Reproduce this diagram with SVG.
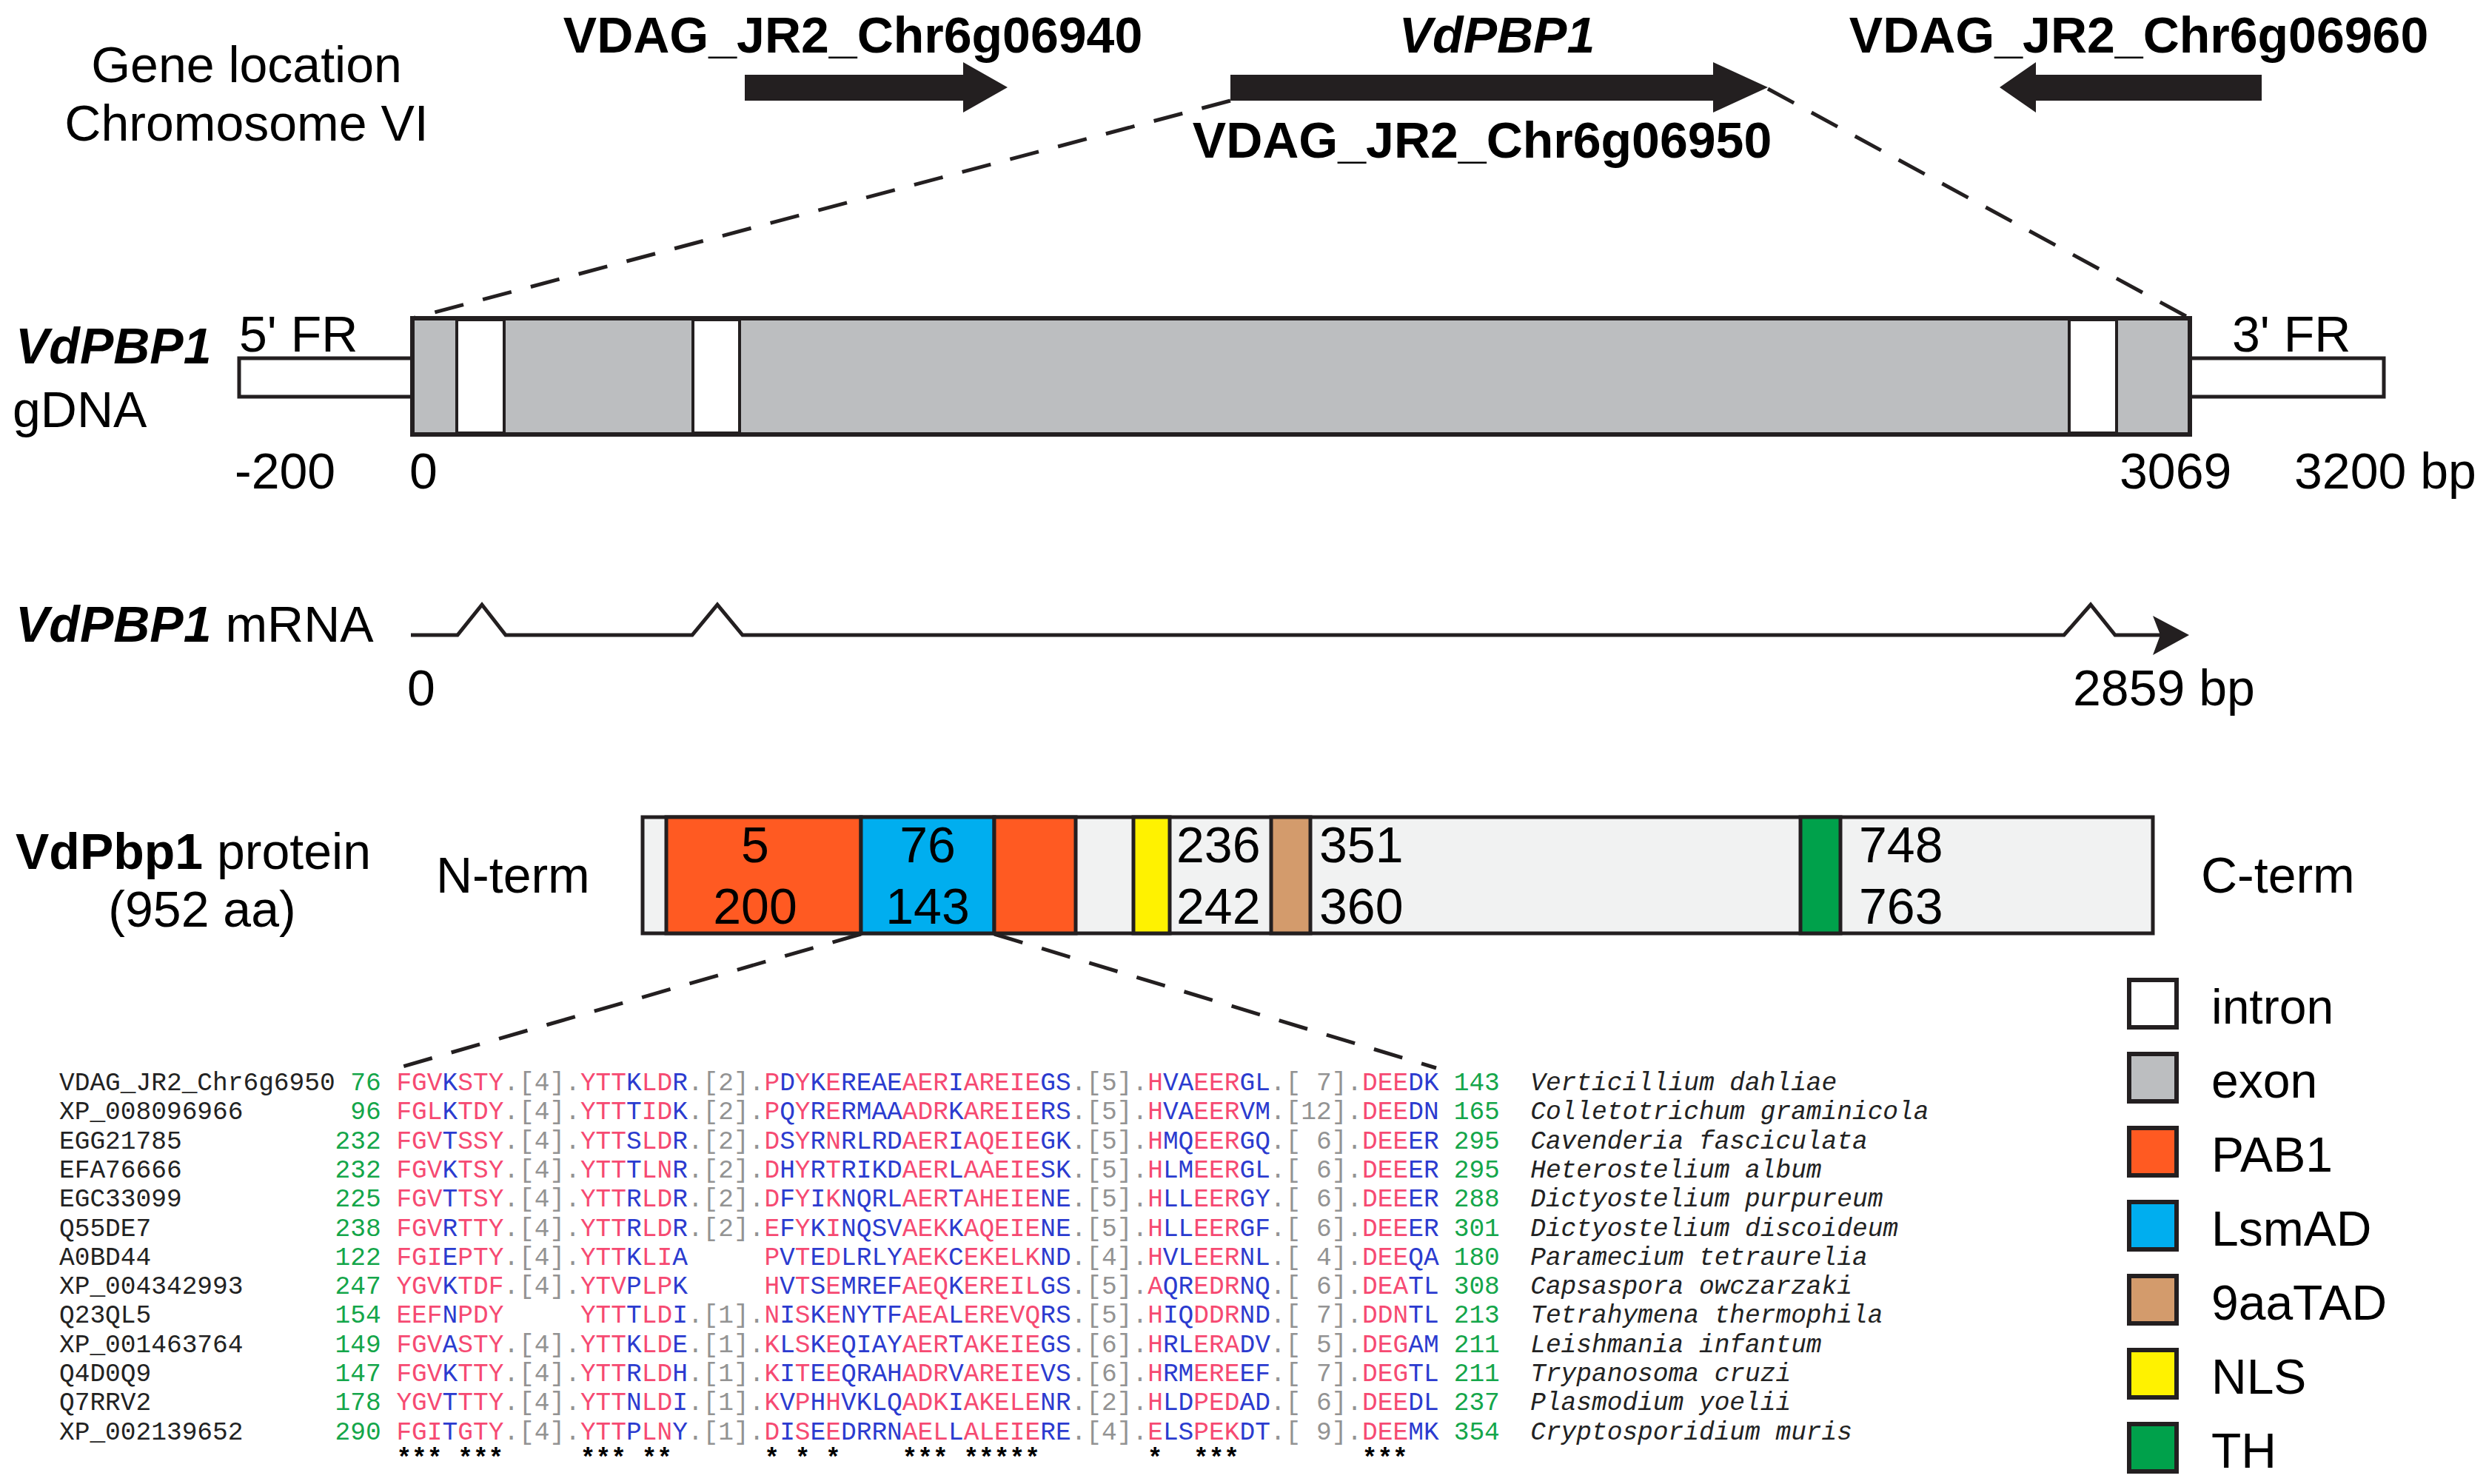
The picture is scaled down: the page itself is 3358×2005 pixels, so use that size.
<svg xmlns="http://www.w3.org/2000/svg" width="3358" height="2005" viewBox="0 0 3358 2005">
<defs>
<style>
text { font-family: "Liberation Sans", Arial, sans-serif; fill: #000; }
.t68 { font-size: 68px; }
.t66 { font-size: 66px; }
.b { font-weight: bold; }
.i { font-style: italic; }
.mid { text-anchor: middle; }
.end { text-anchor: end; }
.mono { font-family: "Liberation Mono", "Courier New", monospace; font-size: 34.5px; white-space: pre; }
.seq { fill: #2b3bcf; }
.p { fill: #f64a72; }
.g { fill: #939393; }
.n { fill: #14a64a; }
.nm { fill: #222; }
.sp { font-style: italic; fill: #222; }
.dash { fill: none; stroke: #231f20; stroke-width: 5; stroke-dasharray: 40 27; }
.blk { fill: #231f20; }
.ln { fill: none; stroke: #231f20; stroke-width: 5; stroke-linejoin: miter; }
.ex { fill: #bcbec0; stroke: #231f20; stroke-width: 6; }
.intr { fill: #fff; stroke: #231f20; stroke-width: 4; }
.fr { fill: #fff; stroke: #231f20; stroke-width: 5; }
.dom { stroke: #231f20; stroke-width: 5; }
.leg { stroke: #231f20; stroke-width: 6; }
</style>
</defs>
<rect x="0" y="0" width="3358" height="2005" fill="#fff"/>

<g id="gene-location">
<text class="t68 mid" x="333" y="111">Gene location</text>
<text class="t68 mid" x="333" y="190">Chromosome VI</text>
<text class="t68 b mid" x="1152" y="71">VDAG_JR2_Chr6g06940</text>
<text class="t68 b i mid" x="2022" y="71">VdPBP1</text>
<text class="t68 b mid" x="2002" y="213">VDAG_JR2_Chr6g06950</text>
<text class="t68 b mid" x="2889" y="71">VDAG_JR2_Chr6g06960</text>
<polygon id="arrow-06940" class="blk" points="1006,101 1301,101 1301,84 1361,118 1301,152 1301,136 1006,136"/>
<polygon id="arrow-06950" class="blk" points="1662,101 2314,101 2314,84 2388,118 2314,152 2314,136 1662,136"/>
<polygon id="arrow-06960" class="blk" points="3055,101 2750,101 2750,84 2701,118 2750,152 2750,136 3055,136"/>
</g>

<g id="gdna">
<text class="t68 b i" x="21" y="491">VdPBP1</text>
<text class="t68" x="17" y="577">gDNA</text>
<rect class="fr" x="323" y="484" width="234" height="52"/>
<rect class="fr" x="2958" y="484" width="262" height="52"/>
<rect class="ex" x="557" y="430" width="2401" height="157"/>
<rect class="intr" x="617" y="432" width="64" height="153"/>
<rect class="intr" x="936" y="432" width="63" height="153"/>
<rect class="intr" x="2795" y="432" width="64" height="153"/>
<text class="t68" x="323" y="475">5' FR</text>
<text class="t68" x="3015" y="475">3' FR</text>
<text class="t68" x="317" y="660">-200</text>
<text class="t68" x="553" y="660">0</text>
<text class="t68" x="2863" y="660">3069</text>
<text class="t68" x="3099" y="660">3200 bp</text>
</g>

<g id="mrna">
<text class="t68" x="21" y="867"><tspan class="b i">VdPBP1</tspan> mRNA</text>
<path class="ln" d="M555,858 L618,858 L651,817 L683,858 L935,858 L969,817 L1003,858 L2788,858 L2824,817 L2857,858 L2925,858"/>
<polygon class="blk" points="2957,858 2908,832 2918,858 2908,885"/>
<text class="t68" x="550" y="953">0</text>
<text class="t68" x="2800" y="953">2859 bp</text>
</g>

<g id="protein">
<text class="t68" x="21" y="1174"><tspan class="b">VdPbp1</tspan> protein</text>
<text class="t68 mid" x="273" y="1252">(952 aa)</text>
<text class="t68" x="589" y="1206">N-term</text>
<text class="t68" x="2973" y="1206">C-term</text>
<rect x="868" y="1104" width="2040" height="157" fill="#f1f2f2" stroke="#231f20" stroke-width="5"/>
<rect class="dom" x="900" y="1104" width="263" height="157" fill="#ff5a22"/>
<rect class="dom" x="1163" y="1104" width="180" height="157" fill="#00aeef"/>
<rect class="dom" x="1343" y="1104" width="110" height="157" fill="#ff5a22"/>
<rect class="dom" x="1531" y="1104" width="49" height="157" fill="#fff200"/>
<rect class="dom" x="1717" y="1104" width="53" height="157" fill="#d39b6c"/>
<rect class="dom" x="2432" y="1104" width="54" height="157" fill="#00a14b"/>
<text class="t68 mid" x="1020" y="1165">5</text>
<text class="t68 mid" x="1020" y="1248">200</text>
<text class="t68 mid" x="1253" y="1165">76</text>
<text class="t68 mid" x="1253" y="1248">143</text>
<text class="t68" x="1589" y="1165">236</text>
<text class="t68" x="1589" y="1248">242</text>
<text class="t68" x="1782" y="1165">351</text>
<text class="t68" x="1782" y="1248">360</text>
<text class="t68" x="2511" y="1165">748</text>
<text class="t68" x="2511" y="1248">763</text>
</g>

<g id="legend">
<rect class="leg" x="2876" y="1324" width="64" height="64" fill="#fff"/>
<rect class="leg" x="2876" y="1424" width="64" height="64" fill="#bcbec0"/>
<rect class="leg" x="2876" y="1524" width="64" height="64" fill="#ff5a22"/>
<rect class="leg" x="2876" y="1624" width="64" height="64" fill="#00aeef"/>
<rect class="leg" x="2876" y="1724" width="64" height="64" fill="#d39b6c"/>
<rect class="leg" x="2876" y="1824" width="64" height="64" fill="#fff200"/>
<rect class="leg" x="2876" y="1924" width="64" height="64" fill="#00a14b"/>
<text class="t66" x="2987" y="1383">intron</text>
<text class="t66" x="2987" y="1483">exon</text>
<text class="t66" x="2987" y="1583">PAB1</text>
<text class="t66" x="2987" y="1683">LsmAD</text>
<text class="t66" x="2987" y="1783">9aaTAD</text>
<text class="t66" x="2987" y="1883">NLS</text>
<text class="t66" x="2987" y="1983">TH</text>
</g>

<g id="alignment">
<g id="names" class="mono nm">
<text class="mono nm" x="80" y="1473">VDAG_JR2_Chr6g6950</text>
<text class="mono nm" x="80" y="1512.3">XP_008096966</text>
<text class="mono nm" x="80" y="1551.6">EGG21785</text>
<text class="mono nm" x="80" y="1590.9">EFA76666</text>
<text class="mono nm" x="80" y="1630.2">EGC33099</text>
<text class="mono nm" x="80" y="1669.5">Q55DE7</text>
<text class="mono nm" x="80" y="1708.8">A0BD44</text>
<text class="mono nm" x="80" y="1748.1">XP_004342993</text>
<text class="mono nm" x="80" y="1787.4">Q23QL5</text>
<text class="mono nm" x="80" y="1826.7">XP_001463764</text>
<text class="mono nm" x="80" y="1866">Q4D0Q9</text>
<text class="mono nm" x="80" y="1905.3">Q7RRV2</text>
<text class="mono nm" x="80" y="1944.6">XP_002139652</text>
</g>
<g id="start-numbers">
<text class="mono n end" x="514.7" y="1473">76</text>
<text class="mono n end" x="514.7" y="1512.3">96</text>
<text class="mono n end" x="514.7" y="1551.6">232</text>
<text class="mono n end" x="514.7" y="1590.9">232</text>
<text class="mono n end" x="514.7" y="1630.2">225</text>
<text class="mono n end" x="514.7" y="1669.5">238</text>
<text class="mono n end" x="514.7" y="1708.8">122</text>
<text class="mono n end" x="514.7" y="1748.1">247</text>
<text class="mono n end" x="514.7" y="1787.4">154</text>
<text class="mono n end" x="514.7" y="1826.7">149</text>
<text class="mono n end" x="514.7" y="1866">147</text>
<text class="mono n end" x="514.7" y="1905.3">178</text>
<text class="mono n end" x="514.7" y="1944.6">290</text>
</g>
<g id="sequences">
<text class="mono seq" x="535.4" y="1473"><tspan class="p">FGV</tspan>K<tspan class="p">STY</tspan><tspan class="g">.[4].</tspan><tspan class="p">YTT</tspan>K<tspan class="p">LD</tspan>R<tspan class="g">.[2].</tspan><tspan class="p">P</tspan>D<tspan class="p">Y</tspan>K<tspan class="p">E</tspan>REAE<tspan class="p">AER</tspan>I<tspan class="p">AREIE</tspan>GS<tspan class="g">.[5].</tspan><tspan class="p">H</tspan>VA<tspan class="p">EER</tspan>GL<tspan class="g">.[&#160;7].</tspan><tspan class="p">DEE</tspan>DK</text>
<text class="mono seq" x="535.4" y="1512.3"><tspan class="p">FGL</tspan>K<tspan class="p">TDY</tspan><tspan class="g">.[4].</tspan><tspan class="p">YTT</tspan>T<tspan class="p">ID</tspan>K<tspan class="g">.[2].</tspan><tspan class="p">P</tspan>Q<tspan class="p">Y</tspan>R<tspan class="p">E</tspan>RMAA<tspan class="p">ADR</tspan>K<tspan class="p">AREIE</tspan>RS<tspan class="g">.[5].</tspan><tspan class="p">H</tspan>VA<tspan class="p">EER</tspan>VM<tspan class="g">.[12].</tspan><tspan class="p">DEE</tspan>DN</text>
<text class="mono seq" x="535.4" y="1551.6"><tspan class="p">FGV</tspan>T<tspan class="p">SSY</tspan><tspan class="g">.[4].</tspan><tspan class="p">YTT</tspan>S<tspan class="p">LD</tspan>R<tspan class="g">.[2].</tspan><tspan class="p">D</tspan>S<tspan class="p">Y</tspan>R<tspan class="p">N</tspan>RLRD<tspan class="p">AER</tspan>I<tspan class="p">AQEIE</tspan>GK<tspan class="g">.[5].</tspan><tspan class="p">H</tspan>MQ<tspan class="p">EER</tspan>GQ<tspan class="g">.[&#160;6].</tspan><tspan class="p">DEE</tspan>ER</text>
<text class="mono seq" x="535.4" y="1590.9"><tspan class="p">FGV</tspan>K<tspan class="p">TSY</tspan><tspan class="g">.[4].</tspan><tspan class="p">YTT</tspan>T<tspan class="p">LN</tspan>R<tspan class="g">.[2].</tspan><tspan class="p">D</tspan>H<tspan class="p">Y</tspan>R<tspan class="p">T</tspan>RIKD<tspan class="p">AER</tspan>L<tspan class="p">AAEIE</tspan>SK<tspan class="g">.[5].</tspan><tspan class="p">H</tspan>LM<tspan class="p">EER</tspan>GL<tspan class="g">.[&#160;6].</tspan><tspan class="p">DEE</tspan>ER</text>
<text class="mono seq" x="535.4" y="1630.2"><tspan class="p">FGV</tspan>T<tspan class="p">TSY</tspan><tspan class="g">.[4].</tspan><tspan class="p">YTT</tspan>R<tspan class="p">LD</tspan>R<tspan class="g">.[2].</tspan><tspan class="p">D</tspan>F<tspan class="p">Y</tspan>I<tspan class="p">K</tspan>NQRL<tspan class="p">AER</tspan>T<tspan class="p">AHEIE</tspan>NE<tspan class="g">.[5].</tspan><tspan class="p">H</tspan>LL<tspan class="p">EER</tspan>GY<tspan class="g">.[&#160;6].</tspan><tspan class="p">DEE</tspan>ER</text>
<text class="mono seq" x="535.4" y="1669.5"><tspan class="p">FGV</tspan>R<tspan class="p">TTY</tspan><tspan class="g">.[4].</tspan><tspan class="p">YTT</tspan>R<tspan class="p">LD</tspan>R<tspan class="g">.[2].</tspan><tspan class="p">E</tspan>F<tspan class="p">Y</tspan>K<tspan class="p">I</tspan>NQSV<tspan class="p">AEK</tspan>K<tspan class="p">AQEIE</tspan>NE<tspan class="g">.[5].</tspan><tspan class="p">H</tspan>LL<tspan class="p">EER</tspan>GF<tspan class="g">.[&#160;6].</tspan><tspan class="p">DEE</tspan>ER</text>
<text class="mono seq" x="535.4" y="1708.8"><tspan class="p">FGI</tspan>E<tspan class="p">PTY</tspan><tspan class="g">.[4].</tspan><tspan class="p">YTT</tspan>K<tspan class="p">LI</tspan>A&#160;&#160;&#160;&#160;&#160;<tspan class="p">P</tspan>V<tspan class="p">T</tspan>E<tspan class="p">D</tspan>LRLY<tspan class="p">AEK</tspan>C<tspan class="p">EKELK</tspan>ND<tspan class="g">.[4].</tspan><tspan class="p">H</tspan>VL<tspan class="p">EER</tspan>NL<tspan class="g">.[&#160;4].</tspan><tspan class="p">DEE</tspan>QA</text>
<text class="mono seq" x="535.4" y="1748.1"><tspan class="p">YGV</tspan>K<tspan class="p">TDF</tspan><tspan class="g">.[4].</tspan><tspan class="p">YTV</tspan>P<tspan class="p">LP</tspan>K&#160;&#160;&#160;&#160;&#160;<tspan class="p">H</tspan>V<tspan class="p">T</tspan>S<tspan class="p">E</tspan>MREF<tspan class="p">AEQ</tspan>K<tspan class="p">EREIL</tspan>GS<tspan class="g">.[5].</tspan><tspan class="p">A</tspan>QR<tspan class="p">EDR</tspan>NQ<tspan class="g">.[&#160;6].</tspan><tspan class="p">DEA</tspan>TL</text>
<text class="mono seq" x="535.4" y="1787.4"><tspan class="p">EEF</tspan>N<tspan class="p">PDY</tspan>&#160;&#160;&#160;&#160;&#160;<tspan class="p">YTT</tspan>T<tspan class="p">LD</tspan>I<tspan class="g">.[1].</tspan><tspan class="p">N</tspan>I<tspan class="p">S</tspan>K<tspan class="p">E</tspan>NYTF<tspan class="p">AEA</tspan>L<tspan class="p">EREVQ</tspan>RS<tspan class="g">.[5].</tspan><tspan class="p">H</tspan>IQ<tspan class="p">DDR</tspan>ND<tspan class="g">.[&#160;7].</tspan><tspan class="p">DDN</tspan>TL</text>
<text class="mono seq" x="535.4" y="1826.7"><tspan class="p">FGV</tspan>A<tspan class="p">STY</tspan><tspan class="g">.[4].</tspan><tspan class="p">YTT</tspan>K<tspan class="p">LD</tspan>E<tspan class="g">.[1].</tspan><tspan class="p">K</tspan>L<tspan class="p">S</tspan>K<tspan class="p">E</tspan>QIAY<tspan class="p">AER</tspan>T<tspan class="p">AKEIE</tspan>GS<tspan class="g">.[6].</tspan><tspan class="p">H</tspan>RL<tspan class="p">ERA</tspan>DV<tspan class="g">.[&#160;5].</tspan><tspan class="p">DEG</tspan>AM</text>
<text class="mono seq" x="535.4" y="1866"><tspan class="p">FGV</tspan>K<tspan class="p">TTY</tspan><tspan class="g">.[4].</tspan><tspan class="p">YTT</tspan>R<tspan class="p">LD</tspan>H<tspan class="g">.[1].</tspan><tspan class="p">K</tspan>I<tspan class="p">T</tspan>E<tspan class="p">E</tspan>QRAH<tspan class="p">ADR</tspan>V<tspan class="p">AREIE</tspan>VS<tspan class="g">.[6].</tspan><tspan class="p">H</tspan>RM<tspan class="p">ERE</tspan>EF<tspan class="g">.[&#160;7].</tspan><tspan class="p">DEG</tspan>TL</text>
<text class="mono seq" x="535.4" y="1905.3"><tspan class="p">YGV</tspan>T<tspan class="p">TTY</tspan><tspan class="g">.[4].</tspan><tspan class="p">YTT</tspan>N<tspan class="p">LD</tspan>I<tspan class="g">.[1].</tspan><tspan class="p">K</tspan>V<tspan class="p">P</tspan>H<tspan class="p">H</tspan>VKLQ<tspan class="p">ADK</tspan>I<tspan class="p">AKELE</tspan>NR<tspan class="g">.[2].</tspan><tspan class="p">H</tspan>LD<tspan class="p">PED</tspan>AD<tspan class="g">.[&#160;6].</tspan><tspan class="p">DEE</tspan>DL</text>
<text class="mono seq" x="535.4" y="1944.6"><tspan class="p">FGI</tspan>T<tspan class="p">GTY</tspan><tspan class="g">.[4].</tspan><tspan class="p">YTT</tspan>P<tspan class="p">LN</tspan>Y<tspan class="g">.[1].</tspan><tspan class="p">D</tspan>I<tspan class="p">S</tspan>E<tspan class="p">E</tspan>DRRN<tspan class="p">AEL</tspan>L<tspan class="p">ALEIE</tspan>RE<tspan class="g">.[4].</tspan><tspan class="p">E</tspan>LS<tspan class="p">PEK</tspan>DT<tspan class="g">.[&#160;9].</tspan><tspan class="p">DEE</tspan>MK</text>
</g>
<text id="conservation" class="mono b" x="535.4" y="1981" fill="#111">***&#160;***&#160;&#160;&#160;&#160;&#160;***&#160;**&#160;&#160;&#160;&#160;&#160;&#160;*&#160;*&#160;*&#160;&#160;&#160;&#160;***&#160;*****&#160;&#160;&#160;&#160;&#160;&#160;&#160;*&#160;&#160;***&#160;&#160;&#160;&#160;&#160;&#160;&#160;&#160;***</text>
<g id="end-numbers">
<text class="mono n" x="1963.7" y="1473">143</text>
<text class="mono n" x="1963.7" y="1512.3">165</text>
<text class="mono n" x="1963.7" y="1551.6">295</text>
<text class="mono n" x="1963.7" y="1590.9">295</text>
<text class="mono n" x="1963.7" y="1630.2">288</text>
<text class="mono n" x="1963.7" y="1669.5">301</text>
<text class="mono n" x="1963.7" y="1708.8">180</text>
<text class="mono n" x="1963.7" y="1748.1">308</text>
<text class="mono n" x="1963.7" y="1787.4">213</text>
<text class="mono n" x="1963.7" y="1826.7">211</text>
<text class="mono n" x="1963.7" y="1866">211</text>
<text class="mono n" x="1963.7" y="1905.3">237</text>
<text class="mono n" x="1963.7" y="1944.6">354</text>
</g>
<g id="species">
<text class="mono sp" x="2067.2" y="1473">Verticillium dahliae</text>
<text class="mono sp" x="2067.2" y="1512.3">Colletotrichum graminicola</text>
<text class="mono sp" x="2067.2" y="1551.6">Cavenderia fasciculata</text>
<text class="mono sp" x="2067.2" y="1590.9">Heterostelium album</text>
<text class="mono sp" x="2067.2" y="1630.2">Dictyostelium purpureum</text>
<text class="mono sp" x="2067.2" y="1669.5">Dictyostelium discoideum</text>
<text class="mono sp" x="2067.2" y="1708.8">Paramecium tetraurelia</text>
<text class="mono sp" x="2067.2" y="1748.1">Capsaspora owczarzaki</text>
<text class="mono sp" x="2067.2" y="1787.4">Tetrahymena thermophila</text>
<text class="mono sp" x="2067.2" y="1826.7">Leishmania infantum</text>
<text class="mono sp" x="2067.2" y="1866">Trypanosoma cruzi</text>
<text class="mono sp" x="2067.2" y="1905.3">Plasmodium yoelii</text>
<text class="mono sp" x="2067.2" y="1944.6">Cryptosporidium muris</text>
</g>
</g>

<g id="connectors">
<path class="dash" d="M1662,136 L557,430"/>
<path class="dash" d="M2388,120 L2958,430"/>
<path class="dash" d="M1163,1262 L537,1443"/>
<path class="dash" d="M1343,1262 L1940,1443"/>
</g>
</svg>
